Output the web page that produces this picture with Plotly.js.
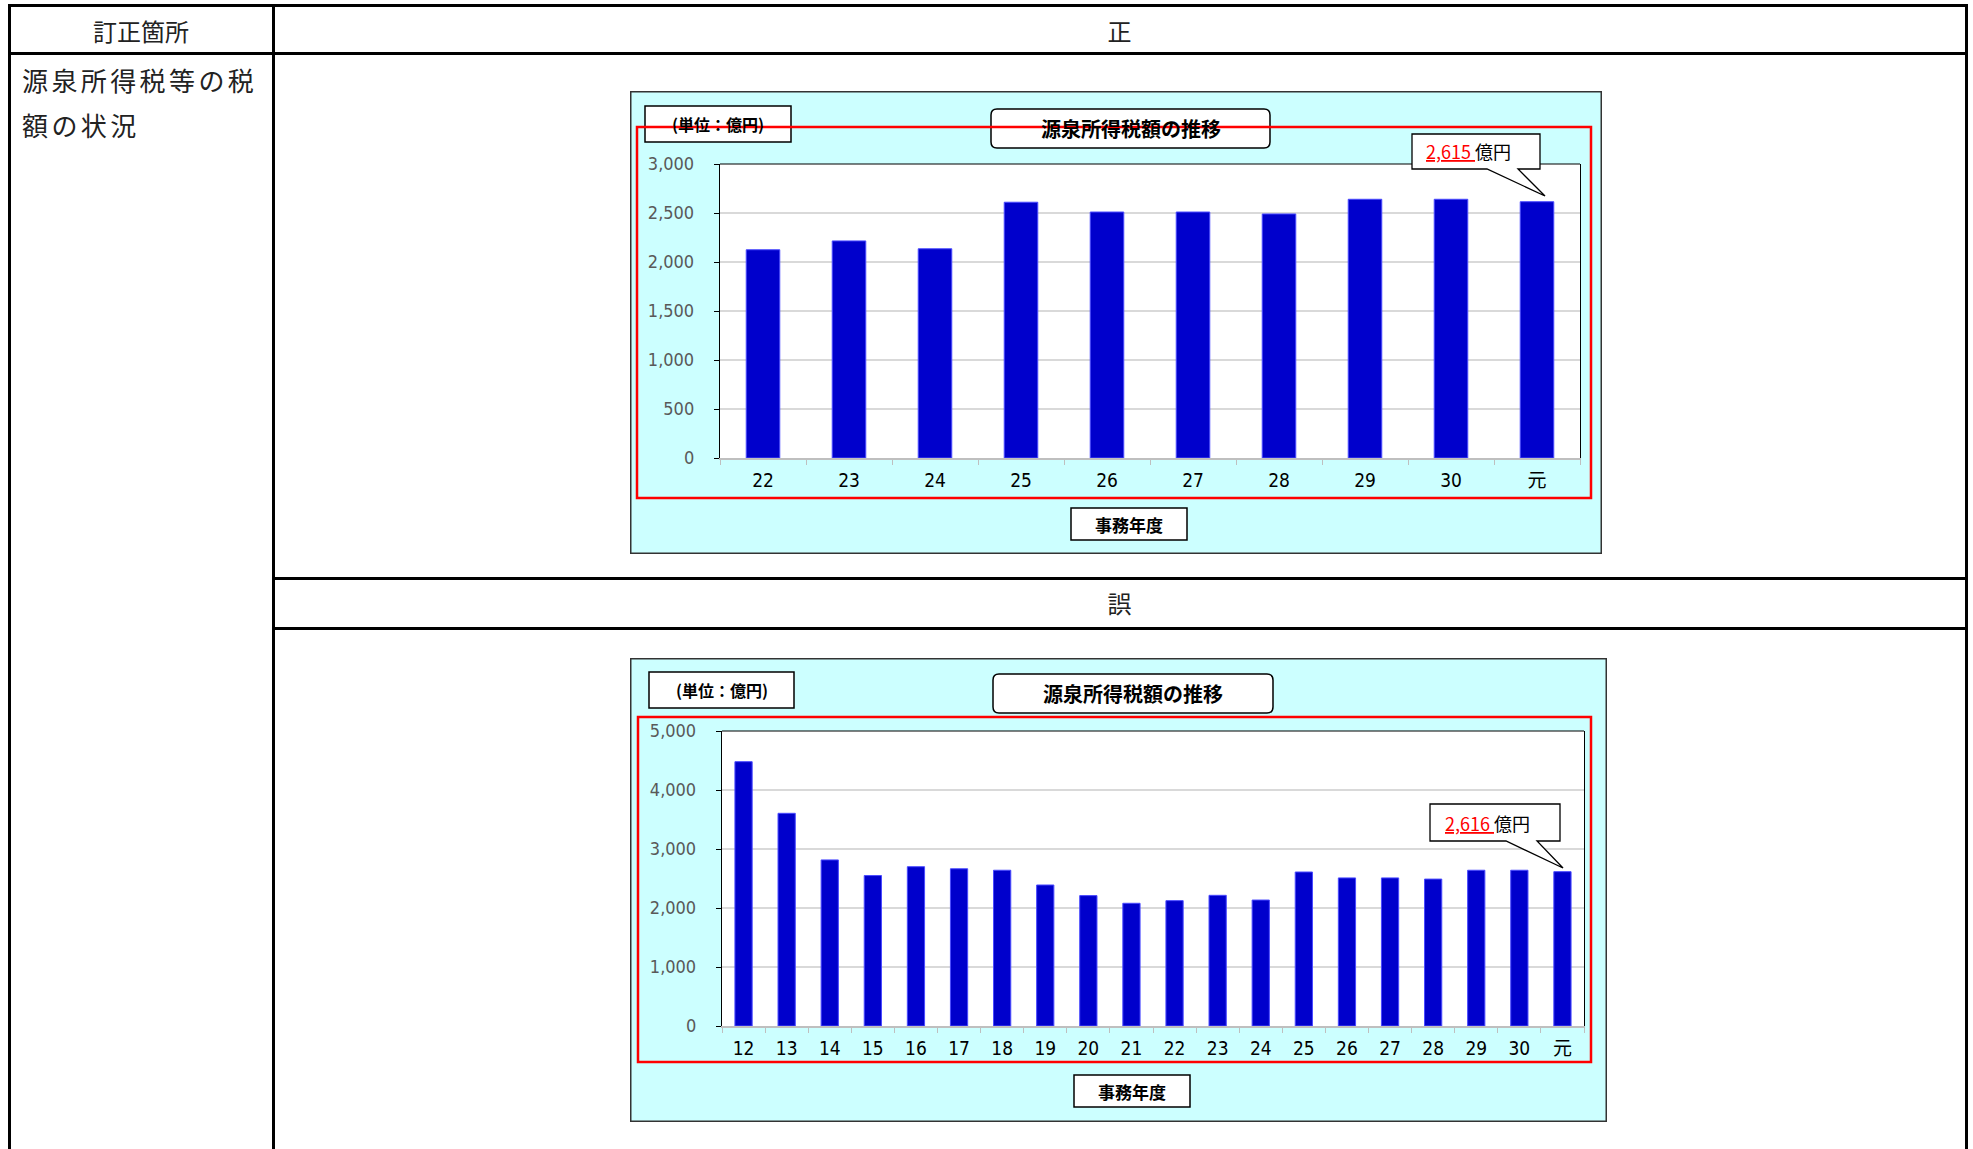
<!DOCTYPE html>
<html><head><meta charset="utf-8">
<script src="https://cdn.plot.ly/plotly-3.0.1.min.js"></script>
<style>
body{margin:0;background:#fff;width:1973px;height:1149px;overflow:hidden;position:relative;font-family:"Noto Sans CJK JP",sans-serif;}
.ln{position:absolute;background:#000;}
.tx{position:absolute;color:#222;font-size:24px;line-height:24px;white-space:nowrap;text-align:center;}
.lt{position:absolute;color:#222;font-size:26px;line-height:26px;letter-spacing:3.4px;white-space:nowrap;}
.ch{position:absolute;}
</style></head><body>
<div class="ln" style="left:8px;top:4px;width:1960px;height:3px"></div>
<div class="ln" style="left:8px;top:4px;width:3px;height:1145px"></div>
<div class="ln" style="left:1965px;top:4px;width:3px;height:1145px"></div>
<div class="ln" style="left:272px;top:4px;width:3px;height:1145px"></div>
<div class="ln" style="left:8px;top:52px;width:1960px;height:3px"></div>
<div class="ln" style="left:272px;top:577px;width:1696px;height:3px"></div>
<div class="ln" style="left:272px;top:627px;width:1696px;height:3px"></div>
<div class="tx" style="left:9px;width:264px;top:19px">訂正箇所</div>
<div class="tx" style="left:273px;width:1693px;top:19px">正</div>
<div class="tx" style="left:273px;width:1693px;top:591px">誤</div>
<div class="lt" style="left:22px;top:67px">源泉所得税等の税</div>
<div class="lt" style="left:22px;top:112px">額の状況</div>
<div id="c1" class="ch" style="left:630px;top:91px;width:972px;height:463px"></div>
<div id="c2" class="ch" style="left:630px;top:658px;width:977px;height:464px"></div>
<script>
// ---- data ----
const yearsCorrect = ['22','23','24','25','26','27','28','29','30','元'];
const valuesCorrect = [2125, 2215, 2135, 2610, 2510, 2510, 2490, 2640, 2640, 2615];
const yearsWrong = ['12','13','14','15','16','17','18','19','20','21','22','23','24','25','26','27','28','29','30','元'];
const valuesWrong = [4480, 3605, 2815, 2550, 2700, 2665, 2640, 2390, 2210, 2080, 2125, 2215, 2135, 2610, 2510, 2510, 2490, 2640, 2640, 2616];
const calloutCorrect = '2,615';
const calloutWrong = '2,616';
const chartTitle = '源泉所得税額の推移';
const unitLabel = '(単位：億円)';
const xTitle = '事務年度';
const unitText = '億円';

const NUMFONT = '"Liberation Sans Narrow", "DejaVu Sans Condensed", "Noto Sans CJK JP", sans-serif';
const JPFONT = '"Noto Sans CJK JP", sans-serif';

function build(id, g, cats, vals, yMax, dtick, callText) {
  const pl = g.plot[0], pt = g.plot[1], pr = g.plot[2], pb = g.plot[3];
  const fx = X => (X - pl) / (pr - pl);
  const fy = Y => (pb - Y) / (pb - pt);
  const P = (X, Y) => fx(X).toFixed(5) + ',' + fy(Y).toFixed(5);
  const rect = (b, fill, color, w) => ({type:'rect', xref:'paper', yref:'paper',
    x0: fx(b[0]), x1: fx(b[2]), y0: fy(b[3]), y1: fy(b[1]),
    fillcolor: fill, line:{color: color, width: w}, layer:'above'});
  const rr = (b, r) => {
    const [x0,y0,x1,y1] = b;
    const path = 'M' + P(x0+r,y0) + ' L' + P(x1-r,y0) + ' Q' + P(x1,y0) + ' ' + P(x1,y0+r) +
      ' L' + P(x1,y1-r) + ' Q' + P(x1,y1) + ' ' + P(x1-r,y1) +
      ' L' + P(x0+r,y1) + ' Q' + P(x0,y1) + ' ' + P(x0,y1-r) +
      ' L' + P(x0,y0+r) + ' Q' + P(x0,y0) + ' ' + P(x0+r,y0) + ' Z';
    return {type:'path', xref:'paper', yref:'paper', path, fillcolor:'#fff', line:{color:'#000', width:1.5}, layer:'above'};
  };
  const cb = g.call;
  const callPath = 'M' + P(cb.box[0],cb.box[1]) + ' L' + P(cb.box[2],cb.box[1]) + ' L' + P(cb.box[2],cb.box[3]) +
    ' L' + P(cb.b2,cb.box[3]) + ' L' + P(cb.tip[0],cb.tip[1]) + ' L' + P(cb.b1,cb.box[3]) +
    ' L' + P(cb.box[0],cb.box[3]) + ' Z';
  const W = g.fig[2] - g.fig[0], H = g.fig[3] - g.fig[1];
  const shapes = [
    rect([g.fig[0]+0.75, g.fig[1]+0.75, g.fig[2]-0.75, g.fig[3]-0.75], 'rgba(0,0,0,0)', '#333', 1.5),
    {type:'line', xref:'paper', yref:'paper', x0:0, x1:1, y0:1, y1:1, line:{color:'#000', width:1.2}, layer:'above'},
    rect(g.unit, '#fff', '#000', 1.5),
    rr(g.title, 6),
    rect(g.xt, '#fff', '#000', 1.5),
    {type:'path', xref:'paper', yref:'paper', path: callPath, fillcolor:'#fff', line:{color:'#000', width:1.3}, layer:'above'},
    rect(g.red, 'rgba(0,0,0,0)', '#ff0000', 2.5)
  ];
  const cx = b => fx((b[0]+b[2])/2), cy = b => fy((b[1]+b[3])/2);
  const annotations = [
    {xref:'paper', yref:'paper', x: cx(g.unit), y: cy(g.unit), text: '<b>' + unitLabel + '</b>', showarrow:false,
     xanchor:'center', yanchor:'middle', font:{family: JPFONT, size: 16, color:'#000'}},
    {xref:'paper', yref:'paper', x: cx(g.title), y: cy(g.title), text: '<b>' + chartTitle + '</b>', showarrow:false,
     xanchor:'center', yanchor:'middle', font:{family: JPFONT, size: 20, color:'#000'}},
    {xref:'paper', yref:'paper', x: cx(g.xt), y: cy(g.xt), text: '<b>' + xTitle + '</b>', showarrow:false,
     xanchor:'center', yanchor:'middle', font:{family: JPFONT, size: 17, color:'#000'}},
    {xref:'paper', yref:'paper', x: fx(cb.tx), y: cy(cb.box), text: '<span style="color:#ff0000"><u>' + callText + ' </u></span>' + unitText,
     showarrow:false, xanchor:'left', yanchor:'middle', font:{family: '"Noto Sans CJK JP", "Liberation Sans", sans-serif', size: 18, color:'#000'}}
  ];
  const trace = {type:'bar', x: cats, y: vals, marker:{color:'#0000cc', line:{color:'#4a4aff', width:1}}, hoverinfo:'none'};
  const layout = {
    width: W, height: H,
    margin: {l: pl - g.fig[0], r: g.fig[2] - pr, t: pt - g.fig[1], b: g.fig[3] - pb, pad: 0},
    paper_bgcolor: '#ccffff', plot_bgcolor: '#ffffff',
    bargap: g.gap, showlegend: false,
    xaxis: {type:'category', showgrid:false, showline:true, linecolor:'#bfbfbf', linewidth:1.5,
      ticks:'outside', tickson:'boundaries', ticklen:5, tickcolor:'#bfbfbf', tickwidth:1, ticklabelstandoff: 5,
      tickfont:{family: NUMFONT, size: 19, color:'#000'}, fixedrange:true, zeroline:false},
    yaxis: {range:[0, yMax], dtick: dtick, tick0: 0, tickformat: ',', showgrid:true, gridcolor:'#d9d9d9', gridwidth:1.2,
      showline:true, linecolor:'#000', linewidth:1.2, mirror:true, ticks:'outside', ticklen:5, tickcolor:'#000',
      ticklabelstandoff: 16,
      tickfont:{family: NUMFONT, size: 18, color:'#595959'}, zeroline:false, fixedrange:true},
    shapes, annotations
  };
  Plotly.newPlot(id, [trace], layout, {staticPlot:true, displayModeBar:false});
}

build('c1', {
  fig:[630, 91, 1602, 554], plot:[720, 164, 1580, 458],
  unit:[645, 106, 791, 142], title:[991, 109, 1270, 148], xt:[1071, 508, 1187, 540],
  red:[637, 127, 1591, 498], gap: 0.61,
  call:{box:[1412, 134, 1540, 169], b1:1487, b2:1518, tip:[1545, 196], tx:1424}
}, yearsCorrect, valuesCorrect, 3000, 500, calloutCorrect);

build('c2', {
  fig:[630, 658, 1607, 1122], plot:[722, 731, 1584, 1026],
  unit:[649, 672, 794, 708], title:[993, 674, 1273, 713], xt:[1074, 1075, 1190, 1107],
  red:[638, 717, 1591, 1062], gap: 0.6,
  call:{box:[1430, 804, 1560, 841], b1:1506, b2:1537, tip:[1563, 868], tx:1443}
}, yearsWrong, valuesWrong, 5000, 1000, calloutWrong);
</script>
</body></html>
